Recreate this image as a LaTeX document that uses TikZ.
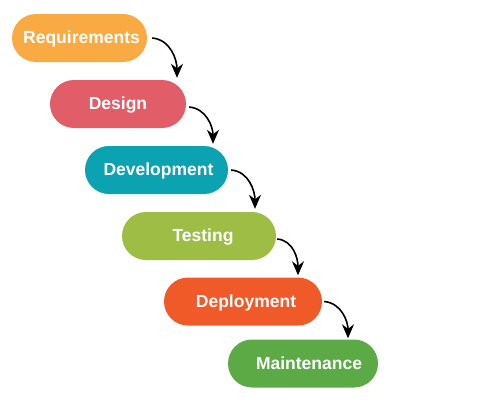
\documentclass[tikz,border=0pt]{standalone}
\usepackage{fontspec}
\setmainfont{Liberation Sans}
\usepackage{xcolor}
\definecolor{reqorange}{HTML}{F9AA43}
\definecolor{desred}{HTML}{E15D67}
\definecolor{devteal}{HTML}{0BA3B1}
\definecolor{tstgreen}{HTML}{9DBD45}
\definecolor{deporange}{HTML}{F05A28}
\definecolor{mntgreen}{HTML}{5BAA46}
\usetikzlibrary{arrows.meta, positioning}

\begin{document}
\begin{tikzpicture}[
  x=1pt, y=-1pt,
  phase/.style={rectangle, rounded corners=24pt, minimum height=48pt, inner sep=0pt, text height=11pt, text depth=0pt, text=white, font=\fontsize{17.5}{20}\selectfont\bfseries},
  arr/.style={-{Stealth[length=14pt, width=12pt]}, line width=1.6pt, black},
]
\useasboundingbox (0,0) rectangle (500,400);

% Phasen
\node[phase, fill=reqorange, minimum width=135pt] (req) at (79.5,38) {\hspace{4pt}Requirements};
\node[phase, fill=desred, minimum width=136pt] (des) at (118,104) {Design};
\node[phase, fill=devteal, minimum width=143pt] (dev) at (156.5,170) {\hspace{4pt}Development};
\node[phase, fill=tstgreen, minimum width=154pt] (tst) at (199,236) {\hspace{8pt}Testing};
\node[phase, fill=deporange, minimum width=158pt] (dep) at (243,301.5) {\hspace{6pt}Deployment};
\node[phase, fill=mntgreen, minimum width=150pt] (mnt) at (303,363.5) {\hspace{12pt}Maintenance};

\draw[arr] ([xshift=5pt]req.east) to[out=-5, in=90] ([xshift=59pt, yshift=2pt]des.north);
\draw[arr] ([xshift=3pt, yshift=-3pt]des.east) to[out=-5, in=90] ([xshift=56.5pt, yshift=2pt]dev.north);
\draw[arr] ([xshift=3pt]dev.east) to[out=-5, in=90] ([xshift=56pt, yshift=3pt]tst.north);
\draw[arr] ([xshift=1pt, yshift=-3pt]tst.east) to[out=-5, in=90] ([xshift=55pt, yshift=2pt]dep.north);
\draw[arr] ([xshift=2pt]dep.east) to[out=-5, in=90] ([xshift=45pt, yshift=1pt]mnt.north);

\end{tikzpicture}
\end{document}
